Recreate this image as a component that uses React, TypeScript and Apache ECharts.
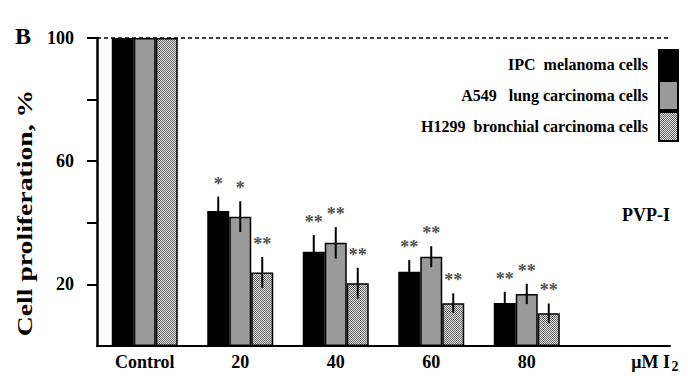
import React, { useEffect, useRef } from 'react';
import * as echarts from 'echarts';

const categories = ['Control', '20', '40', '60', '80', ''];
const seriesNames = ['IPC  melanoma cells', 'A549   lung carcinoma cells', 'H1299  bronchial carcinoma cells'];

const ipcValues = [100, 43.8, 30.6, 24.1, 14.0];
const a549Values = [100, 42.0, 33.5, 29.0, 16.9];
const h1299Values = [100, 23.9, 20.4, 13.9, 10.6];

const ipcErrors = [0, 4.7, 5.4, 3.8, 3.6];
const a549Errors = [0, 5.0, 5.1, 3.4, 3.3];
const h1299Errors = [0, 5.0, 5.0, 3.2, 3.2];

const ipcSig = ['', '*', '**', '**', '**'];
const a549Sig = ['', '*', '**', '**', '**'];
const h1299Sig = ['', '**', '**', '**', '**'];

const yTickValues = [20, 40, 60, 80, 100];
const yLabelValues = [20, 60, 100];

const SERIF = '"Liberation Serif", "Times New Roman", serif';
const BAR_W = 22;

function makePattern() {
  const c = document.createElement('canvas');
  c.width = 2;
  c.height = 2;
  const ctx = c.getContext('2d')!;
  ctx.fillStyle = '#eeeeee';
  ctx.fillRect(0, 0, 2, 2);
  ctx.fillStyle = '#5a5a5a';
  ctx.fillRect(0, 0, 1, 1);
  ctx.fillRect(1, 1, 1, 1);
  return c;
}

function errorSeries(values: number[], errors: number[], sigs: string[], offset: number) {
  return {
    type: 'custom',
    z: 5,
    silent: true,
    data: values.map((v, i) => [i, v, errors[i]]),
    encode: { x: 0, y: 1 },
    renderItem: (params: any, api: any) => {
      const ci = api.value(0);
      const v = api.value(1);
      const e = api.value(2);
      if (!e) return null;
      const top = api.coord([ci, v + e]);
      const bot = api.coord([ci, v - e]);
      const x = top[0] + offset;
      const children: any[] = [
        {
          type: 'line',
          shape: { x1: x, y1: top[1], x2: x, y2: bot[1] },
          style: { stroke: '#000', lineWidth: 2 },
        },
      ];
      const sig = sigs[params.dataIndex];
      if (sig) {
        children.push({
          type: 'text',
          x,
          y: top[1] - 4,
          style: {
            text: sig,
            textAlign: 'center',
            textVerticalAlign: 'bottom',
            font: `bold 18px ${SERIF}`,
            fill: '#505050',
          },
        });
      }
      return { type: 'group', children };
    },
  };
}

export default function App() {
  const ref = useRef<HTMLDivElement>(null);
  useEffect(() => {
    if (!ref.current) return;
    const chart = echarts.init(ref.current, null, { renderer: 'svg' });
    const pattern = makePattern();
    const colors = ['#000000', '#9a9a9a', { image: pattern, repeat: 'repeat', imageWidth: 2, imageHeight: 2 }];
    const barData = [ipcValues, a549Values, h1299Values];
    const errData = [ipcErrors, a549Errors, h1299Errors];
    const sigData = [ipcSig, a549Sig, h1299Sig];

    const bars = seriesNames.map((name, i) => ({
      type: 'bar',
      name,
      data: barData[i],
      barWidth: BAR_W,
      barGap: '0%',
      z: 2,
      itemStyle: { color: colors[i] as any, borderColor: '#000', borderWidth: 1.5 },
      markLine:
        i === 0
          ? {
              silent: true,
              symbol: 'none',
              label: { show: false },
              lineStyle: { color: '#000', type: [4, 3], width: 1.5 },
              data: [{ yAxis: 100 }],
            }
          : undefined,
    }));

    const errs = seriesNames.map((_, i) =>
      errorSeries(barData[i], errData[i], sigData[i], (i - 1) * BAR_W)
    );

    chart.setOption({
      animation: false,
      backgroundColor: '#fff',
      grid: { left: 97, right: 18, top: 38, bottom: 30 },
      legend: {
        data: seriesNames,
        orient: 'vertical',
        right: 9,
        top: 49,
        padding: 0,
        itemWidth: 19,
        itemHeight: 29,
        itemGap: 0,
        align: 'right',
        icon: 'rect',
        selectedMode: false,
        textStyle: { fontFamily: SERIF, fontWeight: 'bold', fontSize: 16, color: '#000', padding: [2, 6, 0, 0] },
      },
      xAxis: {
        type: 'category',
        data: categories,
        axisLine: { lineStyle: { color: '#000', width: 2 } },
        axisTick: { show: false },
        axisLabel: { fontFamily: SERIF, fontWeight: 'bold', fontSize: 18, color: '#000', margin: 7 },
      },
      yAxis: {
        type: 'value',
        min: 0,
        max: 100,
        interval: 20,
        splitLine: { show: false },
        axisLine: { show: true, lineStyle: { color: '#000', width: 2.5 } },
        axisTick: { show: true, length: 10, lineStyle: { color: '#000', width: 2 }, customValues: yTickValues },
        axisLabel: {
          fontFamily: SERIF,
          fontWeight: 'bold',
          fontSize: 18,
          color: '#000',
          margin: 23,
          customValues: yLabelValues,
          formatter: (v: number) => (yLabelValues.includes(v) ? String(v) : ''),
        },
      },
      graphic: [
        {
          type: 'text',
          left: 15,
          top: 24,
          style: { text: 'B', font: `bold 24px ${SERIF}`, fill: '#000' },
        },
        {
          type: 'text',
          x: 25,
          y: 213,
          rotation: Math.PI / 2,
          scaleX: 1.32,
          style: {
            text: 'Cell proliferation, %',
            font: `bold 21px ${SERIF}`,
            fill: '#000',
            textAlign: 'center',
            textVerticalAlign: 'middle',
          },
        },
        {
          type: 'text',
          x: 670,
          y: 215,
          style: {
            text: 'PVP-I',
            font: `bold 18px ${SERIF}`,
            fill: '#000',
            textAlign: 'right',
            textVerticalAlign: 'middle',
          },
        },
        {
          type: 'text',
          x: 670,
          y: 361.5,
          style: {
            text: 'μM I',
            font: `bold 18px ${SERIF}`,
            fill: '#000',
            textAlign: 'right',
            textVerticalAlign: 'middle',
          },
        },
        {
          type: 'text',
          x: 671.5,
          y: 366,
          style: {
            text: '2',
            font: `bold 14px ${SERIF}`,
            fill: '#000',
            textAlign: 'left',
            textVerticalAlign: 'middle',
          },
        },
      ],
      series: [...bars, ...errs] as any,
    });
    return () => chart.dispose();
  }, []);
  return <div ref={ref} style={{ position: 'fixed', left: 0, top: 0, width: 688, height: 376 }} />;
}
